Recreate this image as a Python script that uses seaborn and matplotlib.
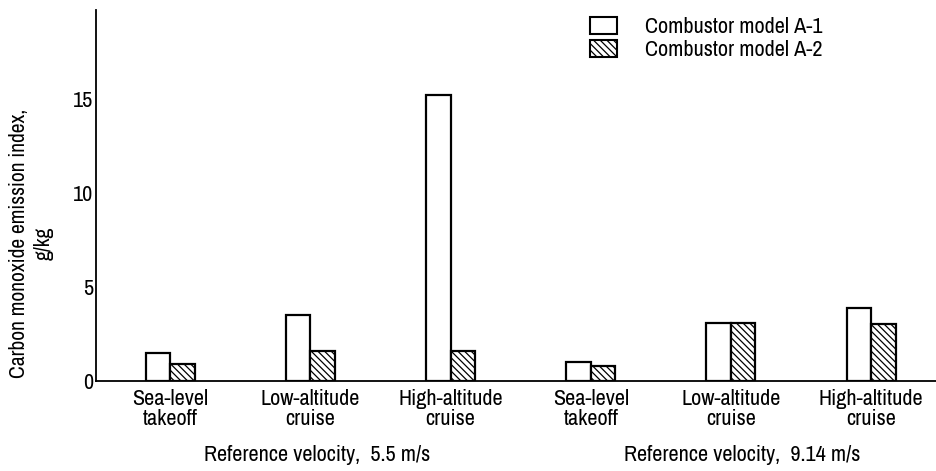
import numpy as np
import pandas as pd
import seaborn as sns
import matplotlib.pyplot as plt
from matplotlib import font_manager
from matplotlib.patches import Patch

# Operating conditions, repeated for each reference velocity
conditions = ["Sea-level\ntakeoff", "Low-altitude\ncruise", "High-altitude\ncruise"]
velocities = ["Reference velocity,  5.5 m/s", "Reference velocity,  9.14 m/s"]
models = ["Combustor model A-1", "Combustor model A-2"]

# CO emission index, g/kg (first three: 5.5 m/s, last three: 9.14 m/s)
a1_values = [1.5, 3.5, 15.2, 1.0, 3.1, 3.9]
a2_values = [0.9, 1.6, 1.6, 0.8, 3.1, 3.05]

slots = list(range(len(a1_values)))
df = pd.DataFrame({
    "slot": slots * 2,
    "model": [models[0]] * len(slots) + [models[1]] * len(slots),
    "value": a1_values + a2_values,
})

sns.set_theme(style="white")

# Prefer a narrow sans face when one is installed
narrow = None
for f in font_manager.fontManager.ttflist:
    if "Narrow" in f.name or "Condensed" in f.name:
        narrow = (f.name, "normal")
        break
    if f.stretch in ("condensed", "semi-condensed", 500 - 125) and f.name == "DejaVu Sans":
        narrow = ("DejaVu Sans", f.stretch)
if narrow is not None:
    plt.rcParams["font.family"] = [narrow[0], "DejaVu Sans"]
    plt.rcParams["font.stretch"] = narrow[1]
    fs = 16
else:
    plt.rcParams["font.family"] = ["DejaVu Sans"]
    fs = 12
plt.rcParams["hatch.linewidth"] = 0.9
plt.rcParams["hatch.color"] = "black"

fig = plt.figure(figsize=(9.37, 4.71), dpi=100)
ax = fig.add_axes([96 / 937, 1 - 381 / 471, 841 / 937, 371 / 471])

sns.barplot(data=df, x="slot", y="value", hue="model", hue_order=models,
            palette=["white", "white"], edgecolor="black", linewidth=1.6,
            width=0.35, saturation=1, legend=False, ax=ax)

hatch = "\\\\\\\\\\"
n = len(slots)
for i, bar in enumerate(ax.patches[:2 * n]):
    if i >= n:
        bar.set_hatch(hatch)

ax.set_xlim(-0.53, 5.47)
ax.set_ylim(0, 19.7)
ax.set_yticks([0, 5, 10, 15])
ax.set_yticklabels(["0", "5", "10", "15"])
ax.set_xticks(slots)
ax.set_xticklabels(conditions * 2, linespacing=1.0)
ax.tick_params(axis="y", direction="in", length=17, width=1.3, pad=2,
               labelsize=fs, color="black", labelcolor="black")
ax.tick_params(axis="x", length=0, pad=6, labelsize=fs, labelcolor="black")
ax.set_xlabel("")
ax.set_ylabel("Carbon monoxide emission index,\ng/kg", fontsize=fs - 0.5,
              color="black", linespacing=1.3)
ax.yaxis.set_label_coords(-0.05, 0.372)

for side in ("top", "right"):
    ax.spines[side].set_visible(False)
for side in ("left", "bottom"):
    ax.spines[side].set_color("black")
    ax.spines[side].set_linewidth(1.3)

# Reference-velocity captions under each group of three conditions
caption_shift = [0.05, 0.077]
for k, label in enumerate(velocities):
    xc = np.mean(slots[3 * k:3 * k + 3])
    ax.text(xc + caption_shift[k], -0.2, label, transform=ax.get_xaxis_transform(),
            ha="center", va="center", fontsize=fs, color="black")

lfs = fs
handles = [Patch(facecolor="white", edgecolor="black", linewidth=1.5),
           Patch(facecolor="white", edgecolor="black", linewidth=1.5, hatch=hatch)]
fig.legend(handles, models, loc="upper left", bbox_to_anchor=(590 / 937, 1 - 17 / 471),
           frameon=False, fontsize=lfs, handlelength=27 / (1.389 * lfs),
           handleheight=17 / (1.389 * lfs),
           handletextpad=28 / (1.389 * lfs), labelspacing=0.15,
           borderpad=0, borderaxespad=0, labelcolor="black")

fig.savefig("out.png", dpi=100)
